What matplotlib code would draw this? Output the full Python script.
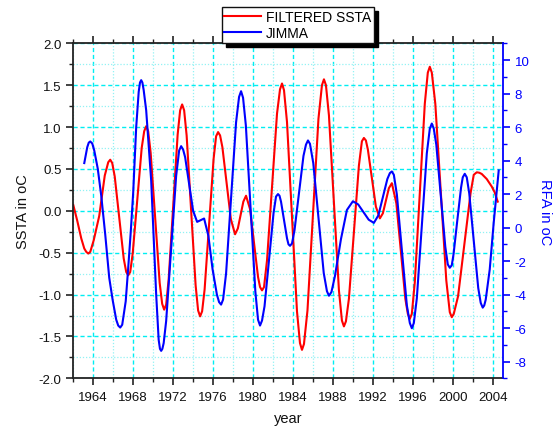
import matplotlib
matplotlib.use("Agg")
import matplotlib.pyplot as plt
from matplotlib.ticker import MultipleLocator, FormatStrFormatter

plt.rcParams["font.family"] = ["Liberation Sans", "DejaVu Sans"]
plt.rcParams["axes.unicode_minus"] = False

# -------------------------
# data
# -------------------------
ssta_years = [
    1962.0, 1962.4, 1962.8, 1963.1, 1963.3, 1963.5, 1963.7, 1964.05, 1964.6,
    1965.15, 1965.5, 1965.7, 1965.9, 1966.15, 1966.6, 1967.05, 1967.3,
    1967.5, 1967.7, 1967.95, 1968.4, 1968.85, 1969.1, 1969.3, 1969.5,
    1969.75, 1970.2, 1970.65, 1970.9, 1971.1, 1971.3, 1971.55, 1972.0,
    1972.45, 1972.7, 1972.9, 1973.1, 1973.35, 1973.8, 1974.25, 1974.5,
    1974.7, 1974.9, 1975.15, 1975.6, 1976.05, 1976.3, 1976.5, 1976.7,
    1976.93, 1977.35, 1977.78, 1978.2, 1978.48, 1978.75, 1979.03, 1979.3,
    1979.7, 1980.1, 1980.5, 1980.7, 1980.9, 1981.1, 1981.4, 1981.9,
    1982.4, 1982.7, 1982.9, 1983.1, 1983.4, 1983.9, 1984.4, 1984.7,
    1984.9, 1985.1, 1985.45, 1986.0, 1986.55, 1986.9, 1987.1, 1987.3,
    1987.6, 1988.1, 1988.6, 1988.9, 1989.1, 1989.3, 1989.6, 1990.1,
    1990.6, 1990.9, 1991.1, 1991.3, 1991.5, 1991.9, 1992.3, 1992.7,
    1993.0, 1993.3, 1993.6, 1993.9, 1994.35, 1994.8, 1995.25, 1995.5,
    1995.7, 1995.9, 1996.2, 1996.7, 1997.2, 1997.5, 1997.7, 1997.9,
    1998.25, 1998.8, 1999.35, 1999.7, 1999.9, 2000.1, 2000.53, 2001.15,
    2001.78, 2002.1, 2002.4, 2002.65, 2002.9, 2003.4, 2003.9, 2004.2,
    2004.5,
]
ssta_values = [
    0.07, -0.12, -0.33, -0.45, -0.49, -0.51, -0.49, -0.35, -0.06,
    0.42, 0.58, 0.61, 0.57, 0.41, -0.08, -0.57, -0.73,
    -0.77, -0.73, -0.51, 0.12, 0.75, 0.95, 1.01, 0.95,
    0.69, -0.09, -0.86, -1.11, -1.18, -1.12, -0.82, 0.05,
    0.91, 1.20, 1.27, 1.20, 0.90, 0.01, -0.89, -1.19,
    -1.26, -1.20, -0.94, -0.16, 0.62, 0.89, 0.94, 0.90,
    0.76, 0.33, -0.10, -0.28, -0.21, -0.05, 0.11, 0.18,
    0.02, -0.39, -0.79, -0.91, -0.95, -0.91, -0.59, 0.29,
    1.16, 1.45, 1.52, 1.44, 1.06, -0.07, -1.20, -1.58,
    -1.66, -1.59, -1.19, -0.05, 1.10, 1.50, 1.57, 1.50,
    1.14, 0.10, -0.95, -1.31, -1.38, -1.32, -1.05, -0.26,
    0.54, 0.83, 0.87, 0.84, 0.73, 0.39, 0.05, -0.09,
    -0.03, 0.12, 0.27, 0.33, 0.09, -0.48, -1.05, -1.23,
    -1.29, -1.23, -0.85, 0.22, 1.28, 1.65, 1.72, 1.65,
    1.28, 0.23, -0.83, -1.21, -1.27, -1.23, -1.02, -0.41,
    0.21, 0.43, 0.46, 0.455, 0.44, 0.38, 0.29, 0.22,
    0.11,
]

jimma_years = [
    1963.1, 1963.4, 1963.55, 1963.7, 1963.9, 1964.1, 1964.45, 1964.8, 1965.2,
    1965.6, 1965.95, 1966.3, 1966.5, 1966.7, 1966.9, 1967.0, 1967.25,
    1967.5, 1967.75, 1968.0, 1968.3, 1968.55, 1968.68, 1968.8, 1968.92,
    1969.05, 1969.3, 1969.55, 1969.8, 1970.05, 1970.3, 1970.55, 1970.68,
    1970.8, 1970.92, 1971.05, 1971.3, 1971.8, 1972.3, 1972.6, 1972.8,
    1973.0, 1973.2, 1973.6, 1974.0, 1974.4, 1974.75, 1975.1, 1975.53,
    1975.95, 1976.38, 1976.6, 1976.8, 1977.0, 1977.3, 1977.8, 1978.3,
    1978.6, 1978.8, 1979.0, 1979.28, 1979.75, 1980.23, 1980.5, 1980.7,
    1980.9, 1981.15, 1981.6, 1982.05, 1982.3, 1982.5, 1982.65, 1982.8,
    1983.1, 1983.4, 1983.55, 1983.7, 1983.9, 1984.15, 1984.6, 1985.05,
    1985.3, 1985.5, 1985.7, 1986.03, 1986.55, 1987.08, 1987.4, 1987.6,
    1987.85, 1988.2, 1988.8, 1989.4, 1990.0, 1990.53, 1991.05, 1991.58,
    1992.1, 1992.55, 1993.0, 1993.45, 1993.7, 1993.9, 1994.1, 1994.4,
    1994.9, 1995.4, 1995.7, 1995.9, 1996.1, 1996.4, 1996.9, 1997.4,
    1997.7, 1997.9, 1998.1, 1998.35, 1998.8, 1999.25, 1999.5, 1999.7,
    1999.9, 2000.08, 2000.45, 2000.83, 2001.0, 2001.2, 2001.4, 2001.65,
    2002.1, 2002.55, 2002.8, 2003.0, 2003.15, 2003.3, 2003.7, 2004.1,
    2004.4, 2004.6,
]
jimma_values = [
    3.85, 4.8, 5.07, 5.14, 5.02, 4.6, 3.52, 1.9, -0.42,
    -3.0, -4.35, -5.5, -5.85, -5.97, -5.8, -5.4, -4.4,
    -2.4, -0.3, 2.1, 6.0, 8.1, 8.66, 8.8, 8.66,
    8.2, 7.0, 4.9, 2.8, -0.6, -4.0, -6.7, -7.24,
    -7.36, -7.24, -6.9, -5.58, -1.25, 3.08, 4.6, 4.86,
    4.65, 4.2, 2.6, 1.0, 0.34, 0.44, 0.54, -0.5,
    -2.5, -4.0, -4.45, -4.6, -4.3, -2.74, 1.77, 6.28,
    7.8, 8.14, 7.75, 6.1, 1.14, -3.81, -5.5, -5.85,
    -5.55, -4.7, -1.93, 0.85, 1.85, 2.0, 1.9, 1.55,
    0.46, -0.64, -1.0, -1.09, -0.95, -0.17, 2.06, 4.28,
    4.95, 5.2, 5.0, 3.85, 0.57, -2.72, -3.8, -4.07,
    -3.85, -2.9, -0.7, 1.05, 1.57, 1.38, 0.93, 0.47,
    0.28, 0.73, 1.82, 2.9, 3.25, 3.35, 3.15, 1.98,
    -1.33, -4.64, -5.7, -6.01, -5.7, -4.23, 0.1, 4.43,
    5.9, 6.21, 5.9, 4.95, 1.9, -1.14, -2.2, -2.4,
    -2.25, -1.58, 0.41, 2.39, 3.0, 3.21, 3.0, 2.04,
    -0.79, -3.61, -4.5, -4.78, -4.65, -4.3, -2.5, 0.3,
    2.2, 3.41,
]

# -------------------------
# estilo
# -------------------------
RED = "#ff0000"
BLUE = "#0000ff"
AXIS_COLOR = "#222222"
GRID_MAJOR = "#00eef2"
GRID_MINOR = "#92f2f4"

fig = plt.figure(figsize=(5.59, 4.31), dpi=100)
ax = fig.add_axes([0.1311, 0.1199, 0.7682, 0.7773])
ax2 = ax.twinx()

line_ssta, = ax.plot(ssta_years, ssta_values, color=RED, lw=1.5,
                     solid_joinstyle="round", label="FILTERED SSTA")
line_jimma, = ax2.plot(jimma_years, jimma_values, color=BLUE, lw=1.5,
                       solid_joinstyle="round", label="JIMMA")

# eixo x
ax.set_xlim(1962, 2005)
ax.xaxis.set_major_locator(MultipleLocator(4))
ax.xaxis.set_minor_locator(MultipleLocator(2))
ax.xaxis.set_major_formatter(FormatStrFormatter("%d"))

# eixo esquerdo
ax.set_ylim(-2.0, 2.0)
ax.yaxis.set_major_locator(MultipleLocator(0.5))
ax.yaxis.set_minor_locator(MultipleLocator(0.25))
ax.yaxis.set_major_formatter(FormatStrFormatter("%.1f"))

# eixo direito
ax2.set_ylim(-9, 11)
ax2.yaxis.set_major_locator(MultipleLocator(2))
ax2.yaxis.set_minor_locator(MultipleLocator(1))

# grade
ax.grid(True, which="major", color=GRID_MAJOR, lw=1.0, ls=(0, (3, 2)))
ax.grid(True, which="minor", color=GRID_MINOR, lw=0.9, ls=(0, (1, 1.5)))
ax.set_axisbelow(True)

# ticks
ax.tick_params(axis="both", which="major", direction="out", length=5,
               width=1.2, colors=AXIS_COLOR, labelsize=9.5,
               labelcolor="#111111")
ax.tick_params(axis="both", which="minor", direction="out", length=3,
               width=1.0, colors=AXIS_COLOR)
ax.tick_params(axis="x", which="both", top=True)
ax.tick_params(axis="x", which="major", pad=4)
ax2.tick_params(axis="y", which="major", direction="out", length=5,
                width=1.2, colors=BLUE, labelsize=9.5)
ax2.tick_params(axis="y", which="minor", direction="out", length=3,
                width=1.0, colors=BLUE)

for name in ["left", "bottom", "top"]:
    ax.spines[name].set_color(AXIS_COLOR)
    ax.spines[name].set_linewidth(1.3)
    ax2.spines[name].set_visible(False)
ax2.spines["right"].set_color(BLUE)
ax2.spines["right"].set_linewidth(1.3)
ax.spines["right"].set_visible(False)

# rótulos
ax.set_xlabel("year", fontsize=10.5, color="#111111", labelpad=6)
ax.set_ylabel("SSTA in oC", fontsize=10.5, color="#111111", labelpad=6)
ax2.set_ylabel("RFA in oC", fontsize=10.5, color=BLUE, rotation=270,
               labelpad=16)

# legenda
fig.legend(
    handles=[line_ssta, line_jimma],
    loc="upper center",
    bbox_to_anchor=(0.533, 0.982),
    borderaxespad=0,
    fontsize=10,
    frameon=True,
    fancybox=False,
    edgecolor="#111111",
    framealpha=1,
    shadow={"ox": 3, "oy": -3, "facecolor": "black",
            "edgecolor": "black", "alpha": 1},
    borderpad=0.2,
    labelspacing=0.2,
    handlelength=2.6,
    handletextpad=0.4,
)

fig.savefig("out.png", dpi=100)
plt.close(fig)
